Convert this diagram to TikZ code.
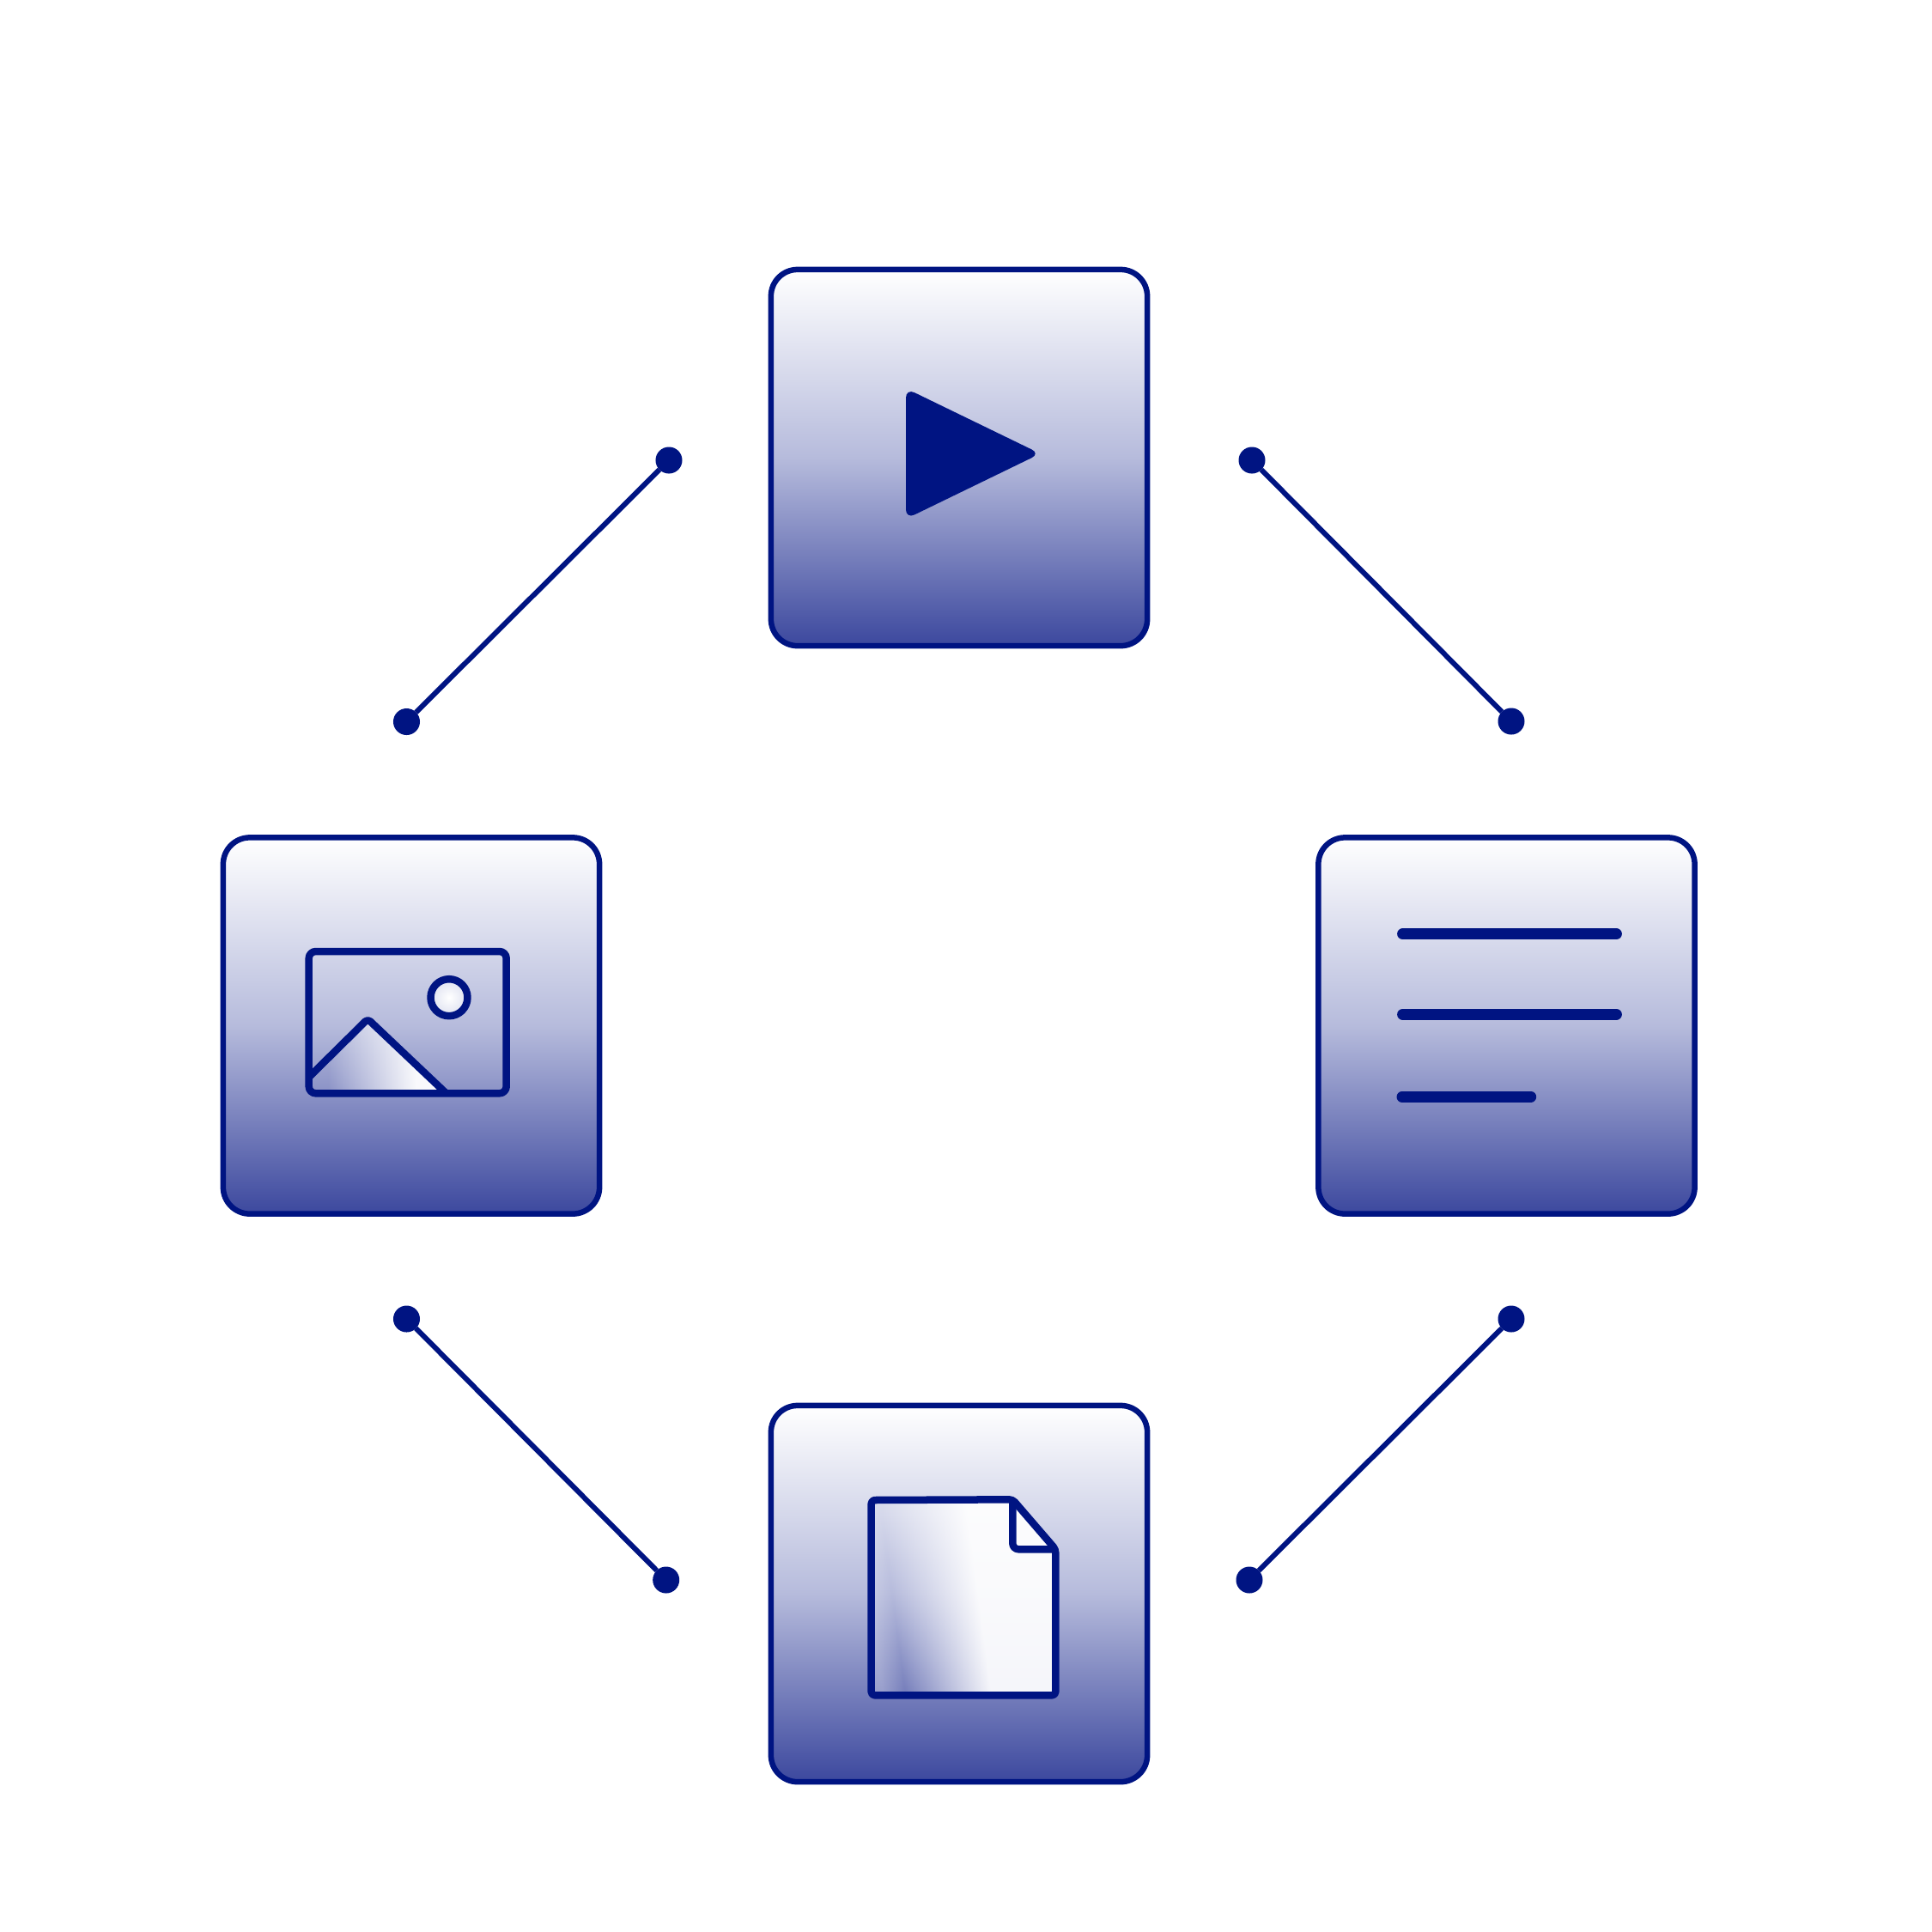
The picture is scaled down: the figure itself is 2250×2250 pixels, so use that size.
\documentclass[tikz,border=0pt]{standalone}
\usepackage{xcolor}
\usetikzlibrary{fadings}
\usetikzlibrary{shapes.geometric}

\definecolor{navy}{RGB}{0,20,130}
\definecolor{boxblue}{RGB}{60,72,158}
\definecolor{boxmid}{RGB}{182,187,220}
\definecolor{sunrim}{RGB}{222,225,240}

\pgfdeclarehorizontalshading{pagesheen}{100bp}{color(0bp)=(pgftransparent!75); color(25bp)=(pgftransparent!75); color(31bp)=(pgftransparent!100); color(54bp)=(pgftransparent!7); color(100bp)=(pgftransparent!7)}
\pgfdeclarefading{pagefade}{\pgfuseshading{pagesheen}}
\pgfdeclarehorizontalshading{peaksheen}{100bp}{color(0bp)=(pgftransparent!100); color(32bp)=(pgftransparent!100); color(64bp)=(pgftransparent!5); color(100bp)=(pgftransparent!5)}
\pgfdeclarefading{peakfade}{\pgfuseshading{peaksheen}}

\begin{document}
\begin{tikzpicture}[x=0.01cm,y=-0.01cm]
\tikzset{
    iconbox/.style = {rectangle, draw=navy, line width=0.065cm, rounded corners=0.31cm, top color=white, bottom color=boxblue, middle color=boxmid, minimum size=4.38cm},
    enddot/.style = {circle, fill=navy, inner sep=0pt, outer sep=0pt, minimum size=0.31cm},
    link/.style = {draw=navy, line width=0.06cm},
    glyph/.style = {draw=navy, line width=0.085cm, line join=round}
}
\useasboundingbox (0,0) rectangle (2250,2250);

\node[iconbox] (video) at (1117,533) {};
\node[iconbox] (text) at (1754.5,1194.5) {};
\node[iconbox] (image) at (479,1194.5) {};
\node[iconbox] (file) at (1117,1856) {};

\node[enddot] (a1) at (779,536) {};
\node[enddot] (a2) at (473.5,840.5) {};
\node[enddot] (b1) at (1458,536) {};
\node[enddot] (b2) at (1760,840) {};
\node[enddot] (c1) at (473.5,1536) {};
\node[enddot] (c2) at (775.7,1840) {};
\node[enddot] (d1) at (1760,1536) {};
\node[enddot] (d2) at (1455,1840) {};
\draw[link] (a1) -- (a2);
\draw[link] (b1) -- (b2);
\draw[link] (c1) -- (c2);
\draw[link] (d1) -- (d2);

% play
\fill[navy,rounded corners=0.11cm] (1055,452.3) -- (1211.5,528.3) -- (1055,604.3) -- cycle;

% lines
\draw[glyph,line width=0.13cm,line cap=round] (1633.6,1087.7) -- (1882.4,1087.7);
\draw[glyph,line width=0.13cm,line cap=round] (1633.6,1181.3) -- (1882.4,1181.3);
\draw[glyph,line width=0.13cm,line cap=round] (1633,1277.3) -- (1782.7,1277.3);

% picture
\fill[white,path fading=peakfade] (359.7,1254.5) -- (428.3,1186.7) -- (519.7,1273.3) -- (359.7,1273.3) -- cycle;
\shade[inner color=white,outer color=sunrim] (523,1161.7) circle (21.5);
\draw[glyph] (523,1161.7) circle (21.5);
\draw[glyph,rounded corners=0.08cm] (359.7,1108) rectangle (589.7,1273.3);
\draw[glyph,rounded corners=0.04cm] (359.7,1254.5) -- (428.3,1186.7) -- (519.7,1273.3);

% page
\fill[white,path fading=pagefade,fading angle=8] (1014.7,1747) -- (1179.3,1746.3) -- (1229.3,1804.3) -- (1229.3,1974.3) -- (1014.7,1974.3) -- cycle;
\draw[glyph,rounded corners=0.04cm] (1014.7,1747) -- (1179.3,1746.3) -- (1229.3,1804.3) -- (1229.3,1974.3) -- (1014.7,1974.3) -- cycle;
\draw[glyph,rounded corners=0.07cm] (1179.3,1746.3) -- (1179.3,1804.3) -- (1229.3,1804.3);
\end{tikzpicture}
\end{document}
